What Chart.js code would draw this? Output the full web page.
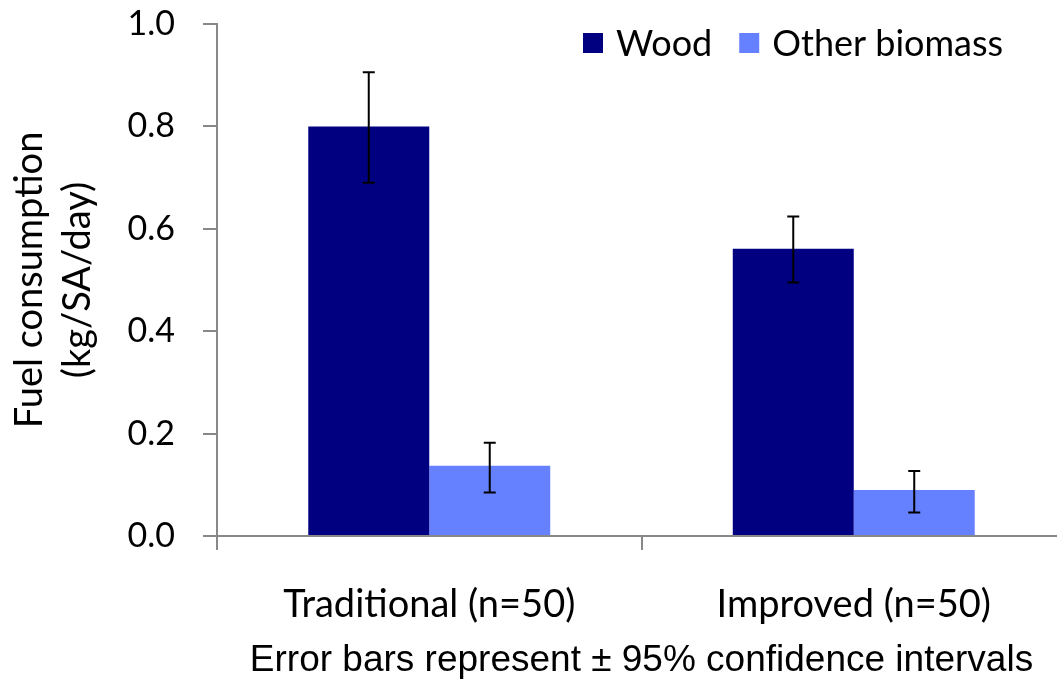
<!DOCTYPE html>
<html>
<head>
<meta charset="utf-8">
<script src="https://cdn.jsdelivr.net/npm/chart.js@4.4.0/dist/chart.umd.min.js"></script>
<style>
  html, body { margin: 0; padding: 0; background: #fff; overflow: hidden; }
  #wrap { width: 1057px; height: 683px; overflow: hidden; }
</style>
</head>
<body>
<div id="wrap"><canvas id="chart" width="1066" height="683"></canvas></div>
<script>
// chart data
const categories = ['Traditional (n=50)', 'Improved (n=50)'];
const woodValues = [0.80, 0.561];
const woodLow = [0.690, 0.495];
const woodHigh = [0.906, 0.624];
const otherValues = [0.137, 0.090];
const otherLow = [0.085, 0.046];
const otherHigh = [0.182, 0.127];
const yTickLabels = ['0.0', '0.2', '0.4', '0.6', '0.8', '1.0'];

const axisGray = '#888888';
const calibriLike = 'Lato, "Open Sans", sans-serif';

/* error bars from the low/high arrays */
const errorBars = {
  id: 'errorBars',
  afterDatasetsDraw(chart) {
    const ctx = chart.ctx;
    const y = chart.scales.y;
    chart.data.datasets.forEach((ds, i) => {
      const meta = chart.getDatasetMeta(i);
      meta.data.forEach((bar, j) => {
        const top = y.getPixelForValue(ds.errHigh[j]);
        const bottom = y.getPixelForValue(ds.errLow[j]);
        ctx.save();
        ctx.strokeStyle = '#000';
        ctx.lineWidth = 2;
        ctx.beginPath();
        ctx.moveTo(bar.x, top); ctx.lineTo(bar.x, bottom);
        ctx.moveTo(bar.x - 6, top); ctx.lineTo(bar.x + 6, top);
        ctx.moveTo(bar.x - 6, bottom); ctx.lineTo(bar.x + 6, bottom);
        ctx.stroke();
        ctx.restore();
      });
    });
  }
};

/* legend in the top right of the plot */
const plotLegend = {
  id: 'plotLegend',
  afterDraw(chart) {
    const ctx = chart.ctx;
    let x = 583;
    ctx.save();
    ctx.font = '36px ' + calibriLike;
    ctx.textBaseline = 'middle';
    chart.data.datasets.forEach(ds => {
      ctx.fillStyle = ds.backgroundColor;
      ctx.fillRect(x, 33, 20, 20);
      ctx.fillStyle = '#000';
      ctx.fillText(ds.label, x + 33, 44);
      x += 33 + ctx.measureText(ds.label).width + 27;
    });
    ctx.restore();
  }
};

new Chart(document.getElementById('chart'), {
  type: 'bar',
  data: {
    labels: categories,
    datasets: [{
      label: 'Wood',
      data: woodValues,
      errLow: woodLow,
      errHigh: woodHigh,
      backgroundColor: '#000080'
    }, {
      label: 'Other biomass',
      data: otherValues,
      errLow: otherLow,
      errHigh: otherHigh,
      backgroundColor: '#6681FF'
    }]
  },
  options: {
    responsive: false,
    animation: false,
    layout: { padding: 0 },
    datasets: { bar: { categoryPercentage: 0.57, barPercentage: 1.0 } },
    plugins: {
      legend: { display: false },
      tooltip: { enabled: false }
    },
    scales: {
      x: {
        afterFit(scale) { scale.height = 147; },
        border: { color: axisGray, width: 2 },
        grid: { offset: true, drawOnChartArea: false, drawTicks: true, tickLength: 14, color: axisGray, lineWidth: 2 },
        ticks: { color: '#000', font: { family: calibriLike, size: 38 }, padding: 32 },
        title: {
          display: true,
          text: 'Error bars represent \u00b1 95% confidence intervals',
          color: '#000',
          font: { family: '"Liberation Sans", Arial, sans-serif', size: 37 },
          padding: { top: 4, bottom: 0 }
        }
      },
      y: {
        min: 0,
        max: 1,
        afterFit(scale) {
          scale.width = 217;
          scale.paddingTop = 24; // plot top sits at the "1.0" tick
        },
        border: { color: axisGray, width: 2 },
        grid: { drawOnChartArea: false, drawTicks: true, tickLength: 14, color: axisGray, lineWidth: 2 },
        ticks: {
          stepSize: 0.2,
          color: '#000',
          padding: 28,
          font: { family: calibriLike, size: 34 },
          callback: (v, i) => yTickLabels[i]
        },
        title: {
          display: true,
          text: ['Fuel consumption', '(kg/SA/day)'],
          color: '#000',
          font: { family: calibriLike, size: 38, lineHeight: 1.25 },
          padding: { top: 6, bottom: 0 }
        }
      }
    }
  },
  plugins: [errorBars, plotLegend]
});
</script>
</body>
</html>
